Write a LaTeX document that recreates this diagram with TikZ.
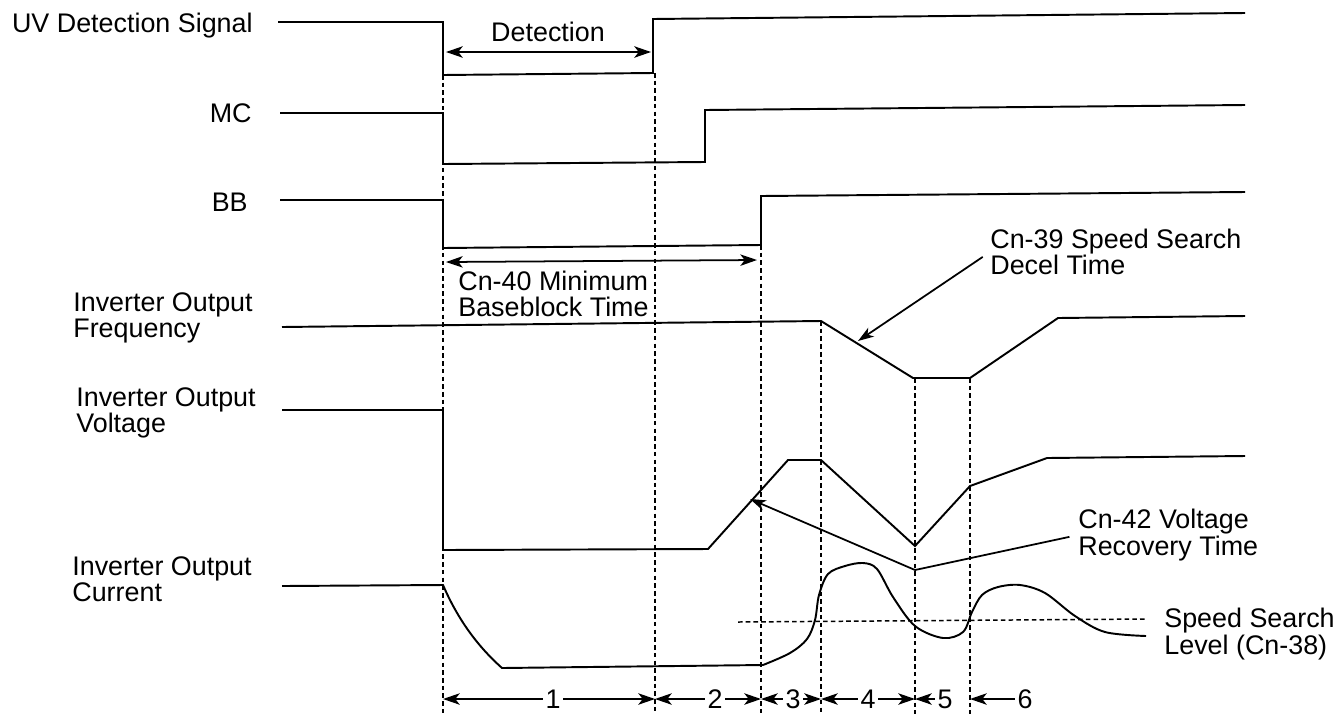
\documentclass[tikz,border=0pt]{standalone}
\usepackage{fontspec}
\setmainfont{Liberation Sans}
\usetikzlibrary{arrows.meta, positioning}

\begin{document}
\begin{tikzpicture}[
    x=0.02cm, y=-0.02cm,
    wave/.style={line width=1.1pt, line join=miter},
    guide/.style={line width=0.85pt, dash pattern=on 2.6pt off 1.8pt},
    sigtext/.style={font=\fontsize{15.3}{15.1}\selectfont, inner sep=0pt, align=left},
    numtext/.style={font=\fontsize{15.3}{15.1}\selectfont, inner sep=1.5pt},
    dimarrow/.style={line width=1pt, -{Stealth[length=9.5pt, width=6.5pt, inset=2.5pt]}},
    dimboth/.style={line width=1pt, {Stealth[length=9.5pt, width=6.5pt, inset=2.5pt]}-{Stealth[length=9.5pt, width=6.5pt, inset=2.5pt]}},
    callout/.style={line width=1pt, -{Stealth[length=9pt, width=6pt, inset=2.5pt]}, shorten <=5pt}
]
    \path[fill=white, use as bounding box] (0,0) rectangle (1337,714);

    % --- Signal names ---
    \node[sigtext, anchor=base east] (uvname) at (253,32) {UV Detection Signal};
    \node[sigtext, anchor=base east] (mcname) at (252,122) {MC};
    \node[sigtext, anchor=base east] (bbname) at (248,211) {BB};
    \node[sigtext, anchor=west] (freqname) at (73,318) {Inverter Output\\Frequency};
    \node[sigtext, anchor=west] (voltname) at (76,413) {Inverter Output\\Voltage};
    \node[sigtext, anchor=west] (currname) at (72,579) {Inverter Output\\Current};

    % --- Waveforms ---
    \draw[wave] (278,22) -- (443,22) -- (443,75) -- (653,73) -- (653,19) -- (1245,13);
    \draw[wave] (280,113) -- (443,113) -- (443,164) -- (705,162) -- (705,110) -- (1245,105);
    \draw[wave] (280,200) -- (443,200) -- (443,248) -- (761,245) -- (761,196) -- (1245,192);
    \draw[wave] (282,327) -- (821,321) -- (913,378) -- (970,378) -- (1058,318) -- (1245,316);
    \draw[wave] (282,410) -- (443,410) -- (443,550) -- (708,549) -- (788,460) -- (821,460)
        -- (915,546) -- (970,486) -- (1047,458) -- (1245,456);
    \draw[wave] (282,586) -- (443,585) .. controls (456,615) and (474,643) .. (502,668) -- (763,665);
    \draw[wave] plot[smooth, tension=0.55] coordinates {(763,665) (790,653) (807,639) (815,620)
        (819,595) (828,574) (845,566) (863,563) (877,569) (893,597) (915,626) (943,638)
        (963,632) (972,612) (982,595) (998,587) (1020,585) (1045,593) (1075,616) (1105,632)
        (1146,636)};

    % --- Timing guides ---
    \draw[guide] (443,75) -- (443,714);
    \draw[guide] (655,73) -- (655,714);
    \draw[guide] (761,245) -- (761,714);
    \draw[guide] (821,321) -- (821,714);
    \draw[guide] (915,378) -- (915,714);
    \draw[guide] (970,378) -- (970,714);
    \draw[guide] (738,622) -- (1146,619);

    % --- Detection / baseblock spans ---
    \node[sigtext, anchor=base] (detname) at (548,41) {Detection};
    \coordinate (detL) at (446,52);
    \coordinate (detR) at (651,52);
    \draw[dimboth] (detL) -- (detR);

    \node[sigtext, anchor=west] (bbtime) at (458,294) {Cn-40 Minimum\\Baseblock Time};
    \coordinate (bbL) at (446,262);
    \coordinate (bbR) at (757,260);
    \draw[dimboth] (bbL) -- (bbR);

    % --- Interval numbers ---
    \foreach \n/\x in {1/553, 2/715, 3/793, 4/868, 5/945, 6/1025}
        \node[numtext] (n\n) at (\x,699) {\n};
    \foreach \n/\x in {1/443, 2/655, 3/761, 4/821, 5/915, 6/970}
        \coordinate (m\n) at (\x,699);
    \draw[dimarrow] (n1) -- (m1);
    \draw[dimarrow] (n1) -- (m2);
    \draw[dimarrow] (n2) -- (m2);
    \draw[dimarrow] (n2) -- (m3);
    \draw[dimarrow] (n3) -- (m3);
    \draw[dimarrow] (n3) -- (m4);
    \draw[dimarrow] (n4) -- (m4);
    \draw[dimarrow] (n4) -- (m5);
    \draw[dimarrow] (n5) -- (m5);
    \draw[dimarrow] (n6) -- (m6);

    % --- Callouts ---
    \node[sigtext, anchor=west] (decname) at (990,252) {Cn-39 Speed Search\\Decel Time};
    \coordinate (decpt) at (858,341);
    \draw[callout] (decname.west) -- (decpt);

    \node[sigtext, anchor=west] (vrname) at (1078,535) {Cn-42 Voltage\\Recovery Time};
    \coordinate (vrknee) at (915,570);
    \coordinate (vrpt) at (750,499);
    \draw[callout] (vrname.west) -- (vrknee) -- (vrpt);

    \node[sigtext, anchor=west] (ssname) at (1164,634) {Speed Search\\Level (Cn-38)};

\end{tikzpicture}
\end{document}
